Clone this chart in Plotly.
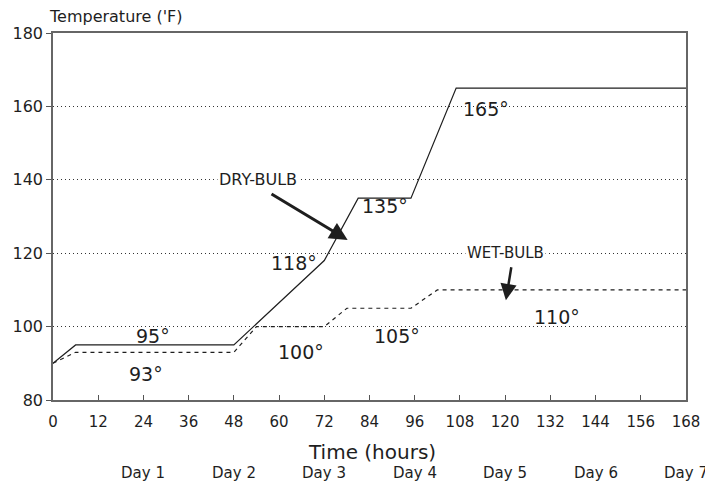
import plotly.graph_objects as go

# Data
dry_hours = [0, 6, 48, 72, 81, 95, 107, 168]
dry_temp = [90, 95, 95, 118, 135, 135, 165, 165]
wet_hours = [0, 6, 48, 54, 72, 78, 95, 102, 168]
wet_temp = [90, 93, 93, 100, 100, 105, 105, 110, 110]

x_ticks = list(range(0, 169, 12))
y_ticks = [80, 100, 120, 140, 160, 180]
day_labels = ["Day 1", "Day 2", "Day 3", "Day 4", "Day 5", "Day 6", "Day 7"]
day_hours = [24, 48, 72, 96, 120, 144, 168]

# degree labels: (text, x, y)
deg_text = ["95°", "93°", "100°", "105°", "110°", "118°", "135°", "165°"]
deg_x = [26.5, 24.7, 65.8, 91.3, 133.7, 63.9, 88.0, 115.0]
deg_y = [97.4, 87.1, 93.0, 97.4, 102.6, 117.3, 132.9, 159.3]

FONT = "DejaVu Sans"
INK = "#1e1e1e"

fig = go.Figure()
fig.add_trace(go.Scatter(x=dry_hours, y=dry_temp, mode="lines",
                         line=dict(color=INK, width=1.2), showlegend=False))
fig.add_trace(go.Scatter(x=wet_hours, y=wet_temp, mode="lines",
                         line=dict(color=INK, width=1.2, dash="4px,4px"), showlegend=False))

ann = []
for t, x, y in zip(deg_text, deg_x, deg_y):
    ann.append(dict(x=x, y=y, xref="x", yref="y", text=t, showarrow=False,
                    font=dict(family=FONT, size=19, color=INK)))

ann.append(dict(x=54.4, y=140, xref="x", yref="y", text="DRY-BULB", showarrow=False,
                bgcolor="white", font=dict(family=FONT, size=16, color=INK)))
ann.append(dict(x=120.2, y=120, xref="x", yref="y", text="WET-BULB", showarrow=False,
                bgcolor="white", font=dict(family=FONT, size=15, color=INK)))
# arrows
ann.append(dict(x=78.2, y=123.6, xref="x", yref="y", ax=57.6, ay=136.4, axref="x", ayref="y",
                text="", showarrow=True, arrowhead=2, arrowsize=1.2, arrowwidth=3, arrowcolor=INK))
ann.append(dict(x=120.2, y=107.2, xref="x", yref="y", ax=121.7, ay=116.6, axref="x", ayref="y",
                text="", showarrow=True, arrowhead=2, arrowsize=1.3, arrowwidth=2.5, arrowcolor=INK))

for d, h in zip(day_labels, day_hours):
    ann.append(dict(x=h, y=-0.199, xref="x", yref="paper", text=d, showarrow=False,
                    yanchor="middle", font=dict(family=FONT, size=15, color=INK)))

ann.append(dict(x=0.504, y=-0.142, xref="paper", yref="paper", text="Time (hours)",
                showarrow=False, yanchor="middle", font=dict(family=FONT, size=20, color=INK)))
ann.append(dict(x=-0.01, y=1.044, xref="paper", yref="paper", text="Temperature ('F)",
                showarrow=False, xanchor="left", yanchor="middle",
                font=dict(family=FONT, size=16, color=INK)))

# page body has an 8px margin: size the figure so the plot area lands where the reference has it
fig.update_layout(
    width=705, height=473,
    margin=dict(l=45, r=27, t=25, b=81),
    paper_bgcolor="white", plot_bgcolor="white",
    annotations=ann,
    xaxis=dict(range=[0, 168], tickvals=x_ticks, ticks="inside", ticklen=5,
               tickcolor="#555", showgrid=False, zeroline=False, automargin=False,
               showline=True, linecolor="#666", linewidth=1.5, mirror=True,
               ticklabelstandoff=7,
               tickfont=dict(family=FONT, size=15, color=INK)),
    yaxis=dict(range=[80, 180], tickvals=y_ticks, ticks="outside", ticklen=5,
               tickcolor="#555", showgrid=True, gridcolor="#333", gridwidth=1,
               griddash="1px,3px", zeroline=False, automargin=False,
               showline=True, linecolor="#666", linewidth=1.5, mirror=True,
               tickfont=dict(family=FONT, size=16, color=INK)),
)

fig.write_html("out.html")
